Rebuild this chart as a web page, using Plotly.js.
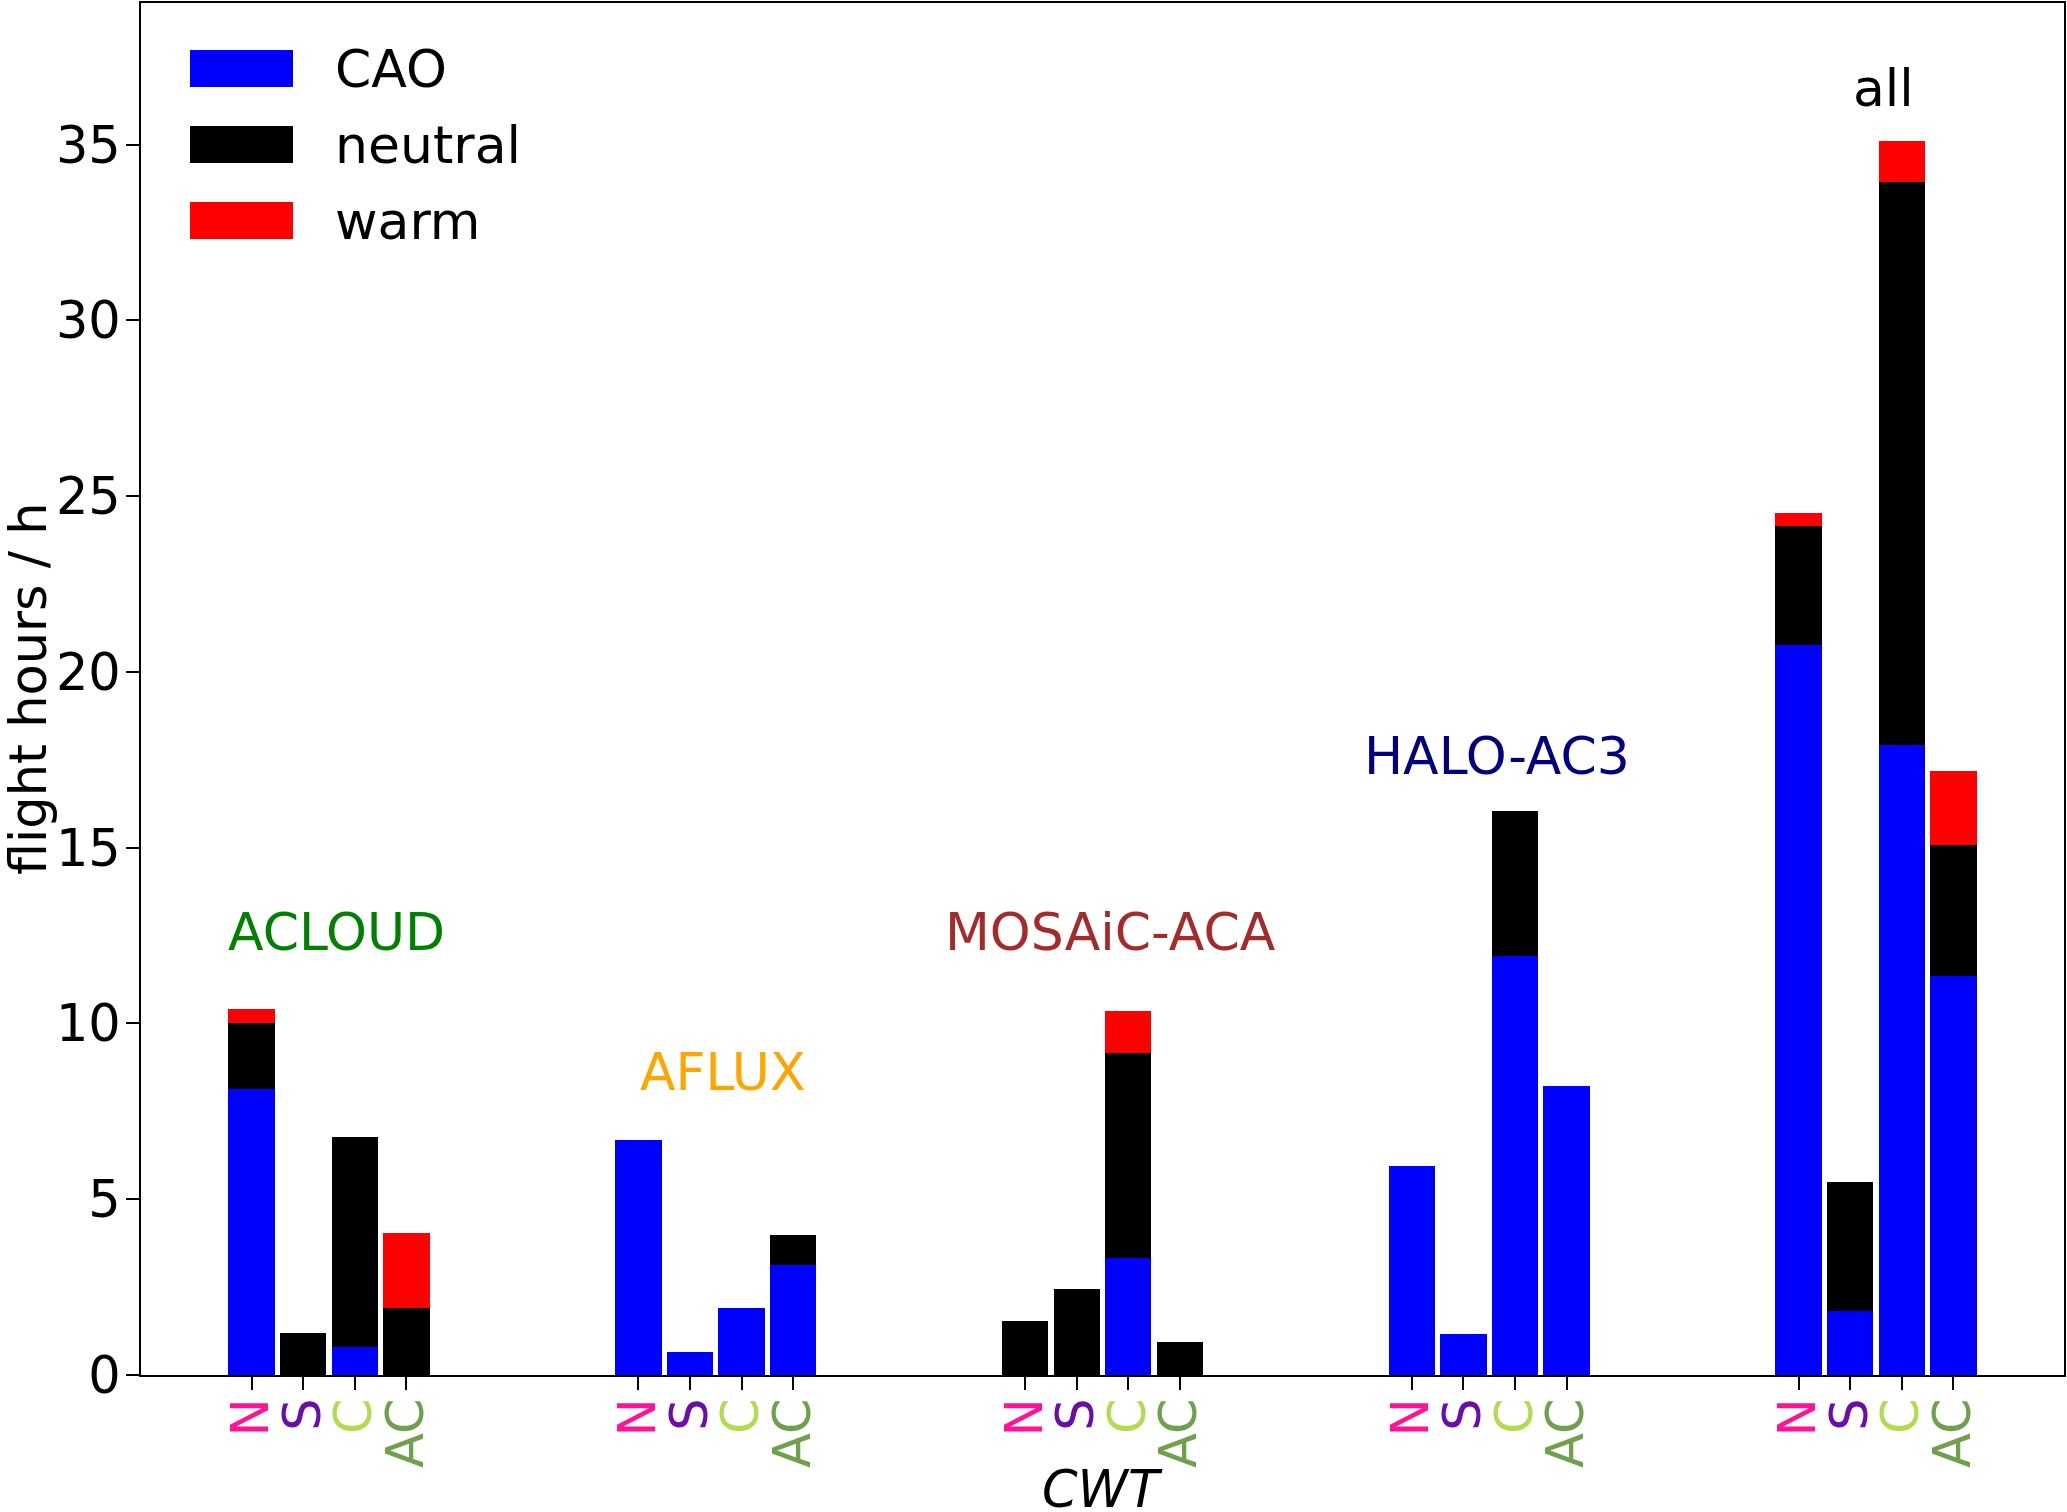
<!DOCTYPE html>
<html>
<head>
<meta charset="utf-8">
<script src="https://cdn.plot.ly/plotly-3.0.1.min.js"></script>
<style>
  body { margin: 0; background: #fff; }
  #chart { width: 2067px; height: 1512px; }
</style>
</head>
<body>
<div id="chart"></div>
<script>
// campaigns and circulation weather types (CWT)
var campaigns = ['ACLOUD', 'AFLUX', 'MOSAiC-ACA', 'HALO-AC3', 'all'];
var campaignColors = ['#008000', '#FFA500', '#A52A2A', '#000080', '#000000'];
var cwt = ['N', 'S', 'C', 'AC'];
var cwtColors = ['#FF1493', '#6A0DAD', '#B3DB50', '#6FA04B'];

// flight hours per campaign, one value per CWT
var cao = [
  [8.15, 0, 0.79, 0],
  [6.69, 0.66, 1.91, 3.14],
  [0, 0, 3.34, 0],
  [5.94, 1.18, 11.92, 8.22],
  [20.77, 1.83, 17.92, 11.36]
];
var neutral = [
  [1.85, 1.20, 5.99, 1.91],
  [0, 0, 0, 0.85],
  [1.53, 2.45, 5.83, 0.94],
  [0, 0, 4.13, 0],
  [3.38, 3.66, 16.01, 3.71]
];
var warm = [
  [0.40, 0, 0, 2.12],
  [0, 0, 0, 0],
  [0, 0, 1.19, 0],
  [0, 0, 0, 0],
  [0.37, 0, 1.18, 2.10]
];
// baseline height of the campaign names
var labelY = [12, 8, 12, 17, 36];

var groupStep = 7.5;
var xs = [], ticktext = [];
campaigns.forEach(function (c, g) {
  cwt.forEach(function (t, j) {
    xs.push(g * groupStep + j);
    ticktext.push('<span style="color:' + cwtColors[j] + '">' + t + '</span>');
  });
});
function flat(a) { return [].concat.apply([], a); }

var series = [
  { name: 'CAO', y: cao, color: '#0000FF' },
  { name: 'neutral', y: neutral, color: '#000000' },
  { name: 'warm', y: warm, color: '#FF0000' }
];

var data = series.map(function (s) {
  return {
    type: 'bar',
    name: s.name,
    x: xs,
    y: flat(s.y),
    width: 0.9,
    marker: { color: s.color, line: { width: 0 } },
    showlegend: false,
    hoverinfo: 'x+y+name'
  };
});

// plot area in pixels: left 141, right 2064, top 3, bottom 1375
var L = 141, R = 2064, T = 3, B = 1375;
function px(x) { return (x - L) / (R - L); }
function py(y) { return 1 - (y - T) / (B - T); }

var family = 'DejaVu Sans, sans-serif';
var font = { family: family, size: 51, color: '#000' };
var bigFont = { family: family, size: 52, color: '#000' };

var annotations = campaigns.map(function (c, g) {
  return {
    text: c, x: g * groupStep + 1.65, y: labelY[g] - 0.3,
    xref: 'x', yref: 'y', xanchor: 'center', yanchor: 'bottom',
    showarrow: false,
    font: { family: family, size: 52, color: campaignColors[g] }
  };
});

annotations.push({
  text: 'CWT', xref: 'paper', yref: 'paper', x: 0.5, y: py(1489),
  xanchor: 'center', yanchor: 'middle', showarrow: false,
  font: { family: family, size: 51, color: '#000', style: 'italic' }
});
annotations.push({
  text: 'flight hours / h', xref: 'paper', yref: 'paper', x: px(28), y: 0.5,
  xanchor: 'center', yanchor: 'middle', textangle: -90, showarrow: false,
  font: font
});

// legend drawn as boxes + text
var shapes = [];
var legTop = [50, 126, 202];
series.forEach(function (s, i) {
  shapes.push({
    type: 'rect', xref: 'paper', yref: 'paper',
    x0: px(190), x1: px(293), y0: py(legTop[i]), y1: py(legTop[i] + 37),
    fillcolor: s.color, line: { width: 0 }
  });
  annotations.push({
    text: s.name, xref: 'paper', yref: 'paper',
    x: px(333), y: py(legTop[i] + 18.5),
    xanchor: 'left', yanchor: 'middle', showarrow: false, font: bigFont
  });
});

var layout = {
  width: 2067,
  height: 1512,
  margin: { l: L, r: 2067 - R, t: T, b: 1512 - B, pad: 0 },
  paper_bgcolor: '#fff',
  plot_bgcolor: '#fff',
  barmode: 'stack',
  font: font,
  showlegend: false,
  xaxis: {
    range: [-2.145, 35.145],
    tickmode: 'array',
    tickvals: xs,
    ticktext: ticktext,
    tickangle: -90,
    ticklabelstandoff: -12,
    ticks: 'outside', ticklen: 13, tickwidth: 2, tickcolor: '#000',
    showgrid: false, zeroline: false,
    showline: true, linecolor: '#000', linewidth: 2, mirror: true,
    tickfont: { family: family, size: 51 }
  },
  yaxis: {
    range: [0, 39.03],
    tickmode: 'array',
    tickvals: [0, 5, 10, 15, 20, 25, 30, 35],
    ticklabelstandoff: -5,
    ticks: 'outside', ticklen: 13, tickwidth: 2, tickcolor: '#000',
    showgrid: false, zeroline: false,
    showline: true, linecolor: '#000', linewidth: 2, mirror: true,
    tickfont: { family: family, size: 51 }
  },
  annotations: annotations,
  shapes: shapes
};

Plotly.newPlot('chart', data, layout, { displayModeBar: false, staticPlot: true });
</script>
</body>
</html>
